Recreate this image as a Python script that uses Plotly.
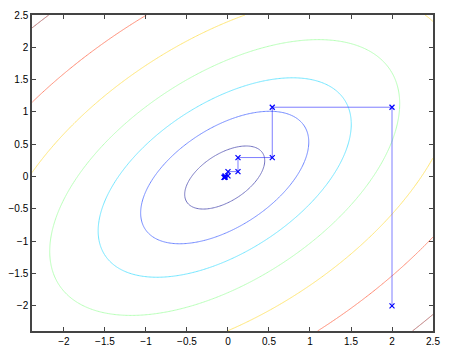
import numpy as np
import plotly.graph_objects as go

# Objective f(x, y) = (x-cx)^2 + (y-cy)^2 - k*(x-cx)*(y-cy)
coupling = 1.07
center_x, center_y = -0.04, -0.015
levels = [0.17, 0.75, 1.7, 3.25, 5.72, 9.8, 16.7]
level_colors = ["#00008f", "#002bff", "#00d4ff", "#80ff80", "#ffd400", "#ff2b00", "#800000"]

# Coordinate-descent path
path_x = [2.0, 2.0, 0.54, 0.54, 0.122, 0.122, 0.0, 0.0, -0.035, -0.035, -0.044, -0.044, -0.047]
path_y = [-2.0, 1.073, 1.073, 0.294, 0.294, 0.077, 0.077, 0.01, 0.01, -0.008, -0.008, -0.013, -0.013]

x_range = [-2.39, 2.5]
y_range = [-2.39, 2.5]
tick_vals = [-2, -1.5, -1, -0.5, 0, 0.5, 1, 1.5, 2, 2.5]
tick_text = ["\u22122", "\u22121.5", "\u22121", "\u22120.5", "0", "0.5", "1", "1.5", "2", "2.5"]

gx = np.linspace(x_range[0], x_range[1], 300)
gy = np.linspace(y_range[0], y_range[1], 300)
X, Y = np.meshgrid(gx, gy)
U, V = X - center_x, Y - center_y
Z = U**2 + V**2 - coupling * U * V

fig = go.Figure()
for lev, col in zip(levels, level_colors):
    fig.add_trace(go.Contour(
        x=gx, y=gy, z=Z,
        contours=dict(start=lev, end=lev, size=1, coloring="lines"),
        colorscale=[[0, col], [1, col]],
        showscale=False, line=dict(width=1), opacity=0.55,
        hoverinfo="skip",
    ))

fig.add_trace(go.Scatter(
    x=path_x, y=path_y, mode="lines+markers",
    line=dict(color="rgba(40,40,255,0.6)", width=1),
    marker=dict(symbol="x-thin", size=5, color="#0000ff", line=dict(width=1.2, color="#0000ff")),
    showlegend=False,
))

axis_common = dict(
    showgrid=False, zeroline=False, showline=True, linecolor="#444", linewidth=1.5,
    mirror="ticks", ticks="inside", ticklen=4, tickcolor="#444", tickwidth=1,
    tickvals=tick_vals, ticktext=tick_text, automargin=False,
    tickfont=dict(family="Liberation Sans, Arial, sans-serif", size=10, color="black"),
)
fig.update_xaxes(range=x_range, **axis_common)
fig.update_yaxes(range=y_range, **axis_common)
fig.update_layout(
    width=449, height=353,
    margin=dict(l=32, r=16, t=15, b=22),
    paper_bgcolor="white", plot_bgcolor="white",
    showlegend=False,
)
fig.write_html("out.html")
